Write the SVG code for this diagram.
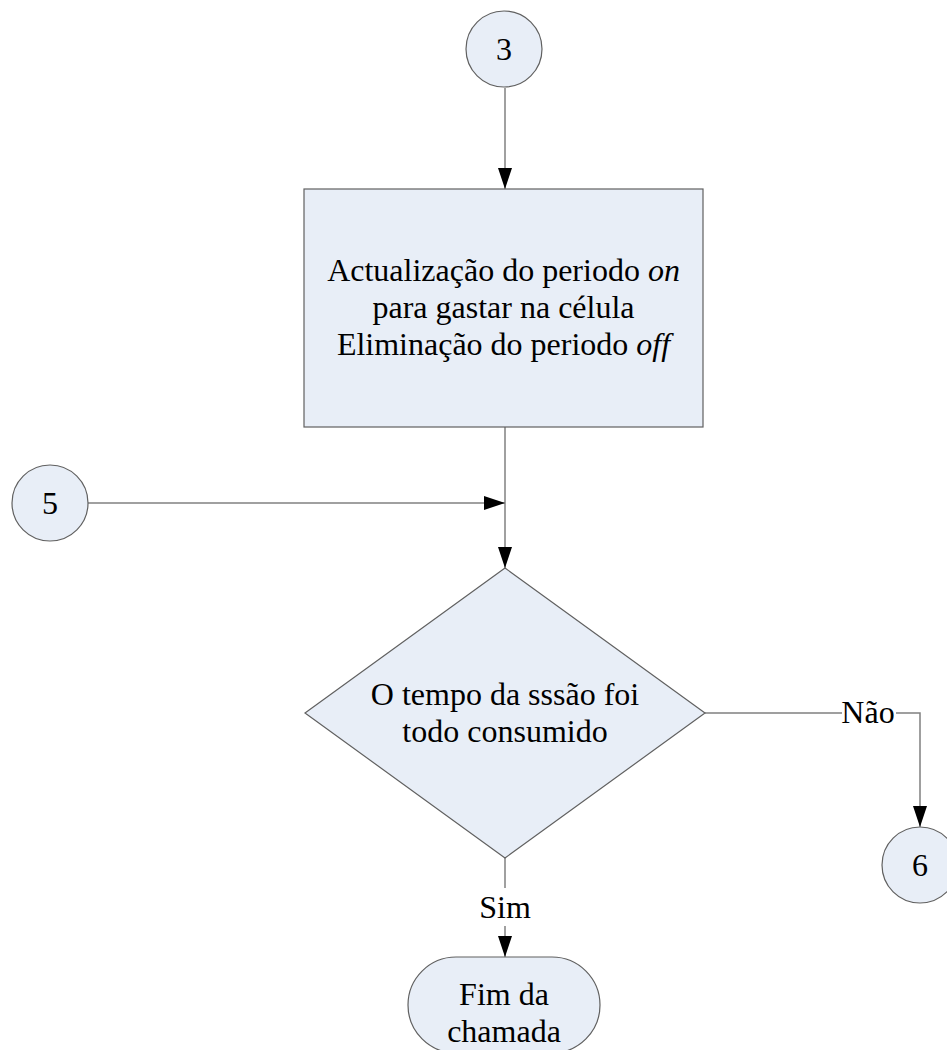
<svg xmlns="http://www.w3.org/2000/svg" width="947" height="1050" viewBox="0 0 947 1050">
  <style>
    .shape { fill: #E8EEF7; stroke: #606060; stroke-width: 1.2; }
    .conn { fill: none; stroke: #808080; stroke-width: 1.5; }
    .txt { font-family: 'Liberation Serif', 'DejaVu Serif', serif; font-size: 32px; fill: #000; text-anchor: middle; }
    .lblbg { fill: #FFFFFF; stroke: none; }
  </style>
  <defs>
    <marker id="arrow" markerUnits="userSpaceOnUse" markerWidth="21" markerHeight="14" refX="21" refY="7" orient="auto">
      <path d="M0,0 L21,7 L0,14 z" fill="#000"/>
    </marker>
  </defs>
  <rect x="0" y="0" width="947" height="1050" fill="#FFFFFF"/>

  <g id="connectors">
    <path class="conn" d="M505,88 L505,189" marker-end="url(#arrow)"/>
    <path class="conn" d="M505,427 L505,568" marker-end="url(#arrow)"/>
    <path class="conn" d="M88,503 L505,503" marker-end="url(#arrow)"/>
    <path class="conn" d="M705,713 L920,713 L920,827" marker-end="url(#arrow)"/>
    <path class="conn" d="M505,858 L505,957" marker-end="url(#arrow)"/>
    <g id="label-nao">
      <rect class="lblbg" x="842" y="700" width="54" height="28"/>
      <text class="txt" x="868" y="723" font-family="Liberation Serif, DejaVu Serif, serif">Não</text>
    </g>
    <g id="label-sim">
      <rect class="lblbg" x="476" y="888" width="58" height="38"/>
      <text class="txt" x="505" y="918" font-family="Liberation Serif, DejaVu Serif, serif">Sim</text>
    </g>
  </g>

  <g id="node-3">
    <circle class="shape" cx="504" cy="49" r="38"/>
    <text class="txt" x="504" y="60" font-family="Liberation Serif, DejaVu Serif, serif">3</text>
  </g>

  <g id="node-process">
    <rect class="shape" x="304" y="189" width="399" height="238"/>
    <text class="txt" x="503.5" y="281" font-family="Liberation Serif, DejaVu Serif, serif">Actualização do periodo <tspan font-style="italic">on</tspan></text>
    <text class="txt" x="503.5" y="318" font-family="Liberation Serif, DejaVu Serif, serif">para gastar na célula</text>
    <text class="txt" x="503.5" y="355" font-family="Liberation Serif, DejaVu Serif, serif">Eliminação do periodo <tspan font-style="italic">off</tspan></text>
  </g>

  <g id="node-5">
    <circle class="shape" cx="50" cy="503" r="38"/>
    <text class="txt" x="50" y="514" font-family="Liberation Serif, DejaVu Serif, serif">5</text>
  </g>

  <g id="node-decision">
    <polygon class="shape" points="505,568 705,713 505,858 305,713"/>
    <text class="txt" x="505" y="705" font-family="Liberation Serif, DejaVu Serif, serif">O tempo da sssão foi</text>
    <text class="txt" x="505" y="742" font-family="Liberation Serif, DejaVu Serif, serif">todo consumido</text>
  </g>

  <g id="node-6">
    <circle class="shape" cx="920" cy="865" r="38"/>
    <text class="txt" x="920" y="876" font-family="Liberation Serif, DejaVu Serif, serif">6</text>
  </g>

  <g id="node-end">
    <rect class="shape" x="408" y="957" width="192" height="96" rx="48" ry="48"/>
    <text class="txt" x="504" y="1005" font-family="Liberation Serif, DejaVu Serif, serif">Fim da</text>
    <text class="txt" x="504" y="1042" font-family="Liberation Serif, DejaVu Serif, serif">chamada</text>
  </g>
</svg>
